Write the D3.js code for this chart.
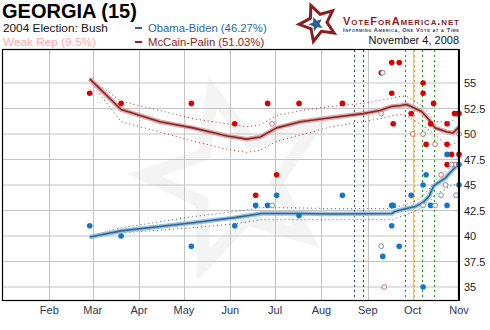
<!DOCTYPE html>
<html>
<head>
<meta charset="utf-8">
<script src="https://cdn.jsdelivr.net/npm/d3@7"></script>
<style>
  body { margin: 0; background: #fff; }
  svg { display: block; font-family: "Liberation Sans", Arial, sans-serif; }
</style>
</head>
<body>
<div class="chart"></div>
<script>
// ---- data ----
let months = ["2008-02-01", "2008-03-01", "2008-04-01", "2008-05-01", "2008-06-01",
              "2008-07-01", "2008-08-01", "2008-09-01", "2008-10-01", "2008-11-01"];
let monthLabels = ["Feb", "Mar", "Apr", "May", "Jun", "Jul", "Aug", "Sep", "Oct", "Nov"];
let yTicks = [35, 37.5, 40, 42.5, 45, 47.5, 50, 52.5, 55];

// [date, value, hollow]
let mccainPolls = [
    ["2008-02-28", 54, 0], ["2008-03-20", 53, 0], ["2008-05-06", 53, 0], ["2008-06-04", 51, 0],
    ["2008-06-18", 44, 0], ["2008-06-26", 53, 0], ["2008-06-29", 51, 1], ["2008-07-02", 46, 0],
    ["2008-07-17", 53, 0], ["2008-08-15", 53, 0], ["2008-09-10", 56, 0], ["2008-09-10", 52, 1],
    ["2008-09-12", 35, 1], ["2008-09-17", 57, 0], ["2008-09-17", 54, 0], ["2008-09-18", 51, 0],
    ["2008-09-22", 57, 0], ["2008-09-30", 52, 0], ["2008-10-01", 50, 1], ["2008-10-08", 55, 0],
    ["2008-10-08", 54, 0], ["2008-10-08", 50, 1], ["2008-10-10", 49, 0], ["2008-10-13", 51, 0],
    ["2008-10-15", 53, 0], ["2008-10-16", 49, 1], ["2008-10-20", 46, 1], ["2008-10-24", 51, 0],
    ["2008-10-24", 49, 0], ["2008-10-24", 47, 0], ["2008-10-27", 48, 0], ["2008-10-29", 52, 0],
    ["2008-10-31", 52, 0], ["2008-11-01", 52, 0], ["2008-11-01", 50, 1], ["2008-11-01", 48, 0],
    ["2008-10-30", 47, 1]
];
let obamaPolls = [
    ["2008-02-28", 41, 0], ["2008-03-20", 40, 0], ["2008-05-06", 39, 0], ["2008-06-04", 41, 0],
    ["2008-06-18", 43, 0], ["2008-06-26", 43, 0], ["2008-06-29", 43, 1], ["2008-07-02", 44, 0],
    ["2008-07-17", 42, 0], ["2008-08-15", 44, 0], ["2008-09-11", 56, 1], ["2008-09-10", 39, 1],
    ["2008-09-11", 38, 0], ["2008-09-17", 43, 0], ["2008-09-18", 43, 0], ["2008-09-17", 41, 0],
    ["2008-09-22", 39, 0], ["2008-09-30", 44, 0], ["2008-10-08", 45, 0], ["2008-10-08", 43, 1],
    ["2008-10-08", 35, 0], ["2008-10-10", 46, 0], ["2008-10-13", 43, 0], ["2008-10-16", 43, 1],
    ["2008-10-20", 44, 1], ["2008-10-23", 45, 1], ["2008-10-24", 43, 0], ["2008-10-24", 48, 0],
    ["2008-10-27", 47, 1], ["2008-10-30", 44, 1], ["2008-11-01", 45, 0], ["2008-11-01", 47, 0]
];

// trend: [date, value, low, high]
let mccainTrend = [
    ["2008-02-28", 55.4, 55.2, 55.5], ["2008-03-20", 52.4, 51.2, 53.2], ["2008-04-15", 51.2, 50.2, 52.3],
    ["2008-05-07", 50.6, 49.3, 51.5], ["2008-05-30", 49.8, 48.5, 51.0], ["2008-06-12", 49.5, 48.2, 50.7],
    ["2008-06-21", 49.7, 48.4, 50.9], ["2008-07-02", 50.6, 49.3, 51.8], ["2008-07-18", 51.2, 49.9, 52.3],
    ["2008-08-07", 51.6, 50.7, 52.7], ["2008-08-29", 52.0, 51.2, 53.0], ["2008-09-09", 52.3, 51.5, 53.3],
    ["2008-09-17", 52.7, 51.8, 53.5], ["2008-09-23", 52.8, 51.9, 53.7], ["2008-09-27", 52.9, 51.8, 53.7],
    ["2008-09-30", 52.7, 51.5, 53.4], ["2008-10-07", 52.2, 50.9, 52.8], ["2008-10-12", 51.4, 50.4, 52.0],
    ["2008-10-16", 50.6, 49.9, 51.2], ["2008-10-24", 50.2, 48.9, 51.2], ["2008-10-28", 50.1, 49.0, 51.3],
    ["2008-11-01", 50.7, 49.3, 51.9]
];
let obamaTrend = [
    ["2008-02-28", 39.9, 39.8, 40.0], ["2008-03-20", 40.5, 40.3, 40.8], ["2008-05-07", 41.3, 40.8, 41.9],
    ["2008-06-04", 41.8, 41.2, 42.4], ["2008-06-22", 42.2, 41.6, 42.8], ["2008-07-18", 42.2, 41.6, 42.75],
    ["2008-08-07", 42.15, 41.6, 42.7], ["2008-09-17", 42.2, 41.6, 42.7], ["2008-09-19", 42.4, 41.7, 42.8],
    ["2008-09-27", 42.7, 42.1, 43.1], ["2008-10-03", 42.9, 42.5, 43.4], ["2008-10-08", 43.3, 42.8, 44.0],
    ["2008-10-12", 43.9, 43.3, 44.6], ["2008-10-15", 44.9, 43.9, 45.3], ["2008-10-18", 45.2, 44.2, 45.7],
    ["2008-10-23", 45.7, 44.6, 46.3], ["2008-10-26", 46.2, 44.9, 46.8], ["2008-10-30", 46.8, 45.1, 47.5],
    ["2008-11-01", 47.1, 45.2, 47.9]
];

// event markers
let eventDates = ["2008-08-23", "2008-08-29", "2008-09-26", "2008-10-02", "2008-10-07", "2008-10-15"];
let eventColors = ["#1f4e79", "#a01010", "#119911", "#f5a000", "#119911", "#119911"];

// ---- drawing ----
let parse = d3.timeParse("%Y-%m-%d");
let W = 490, H = 330;
let svg = d3.select(".chart").append("svg")
    .attr("width", W)
    .attr("height", H);

let x = d3.scaleTime()
    .domain([parse("2008-01-01"), parse("2008-11-01")])
    .range([3, 459]);
let y = d3.scaleLinear()
    .domain([35, 55])
    .range([287, 83]);
let plotTop = 50, plotBottom = 300;

// watermark star
function starPoints(cx, cy, ro, ri, rot) {
    let pts = [];
    for (let i = 0; i < 10; i++) {
        let r = i % 2 === 0 ? ro : ri;
        let a = (rot + i * 36) * Math.PI / 180;
        pts.push([cx + r * Math.cos(a), cy + r * Math.sin(a)]);
    }
    return pts;
}
let line0 = d3.line();
svg.append("path")
    .attr("d", line0(starPoints(236, 180, 108, 48, -105)) + "Z")
    .attr("fill", "#f4f4f4");
svg.append("path")
    .attr("d", line0(starPoints(236, 180, 74, 33, -105)) + "Z")
    .attr("fill", "#ffffff");

// grid
svg.selectAll(".hgrid").data(yTicks).enter().append("line")
    .attr("x1", 3).attr("x2", 459)
    .attr("y1", d => y(d)).attr("y2", d => y(d))
    .attr("stroke", "#c4c4c4").attr("stroke-width", 1);
svg.selectAll(".vgrid").data(months.slice(0, -1)).enter().append("line")
    .attr("x1", d => Math.round(x(parse(d))) + 0.5).attr("x2", d => Math.round(x(parse(d))) + 0.5)
    .attr("y1", plotTop).attr("y2", plotBottom)
    .attr("stroke", "#c4c4c4").attr("stroke-width", 1);

// event lines
svg.selectAll(".evt").data(eventDates).enter().append("line")
    .attr("x1", d => Math.round(x(parse(d))) + 0.5).attr("x2", d => Math.round(x(parse(d))) + 0.5)
    .attr("y1", plotTop).attr("y2", plotBottom)
    .attr("stroke", (d, i) => eventColors[i])
    .attr("stroke-width", 1)
    .attr("stroke-dasharray", "2,3");

// trend lines
function drawTrend(data, dark, light, dot) {
    let ln = d3.line().x(d => x(parse(d[0]))).y(d => y(d[1]));
    let lo = d3.line().x(d => x(parse(d[0]))).y(d => y(d[2]));
    let hi = d3.line().x(d => x(parse(d[0]))).y(d => y(d[3]));
    [lo, hi].forEach(f => {
        svg.append("path").attr("d", f(data))
            .attr("fill", "none").attr("stroke", dot)
            .attr("stroke-width", 1).attr("stroke-dasharray", "1,3");
    });
    svg.append("path").attr("d", ln(data))
        .attr("fill", "none").attr("stroke", light).attr("stroke-width", 4.5)
        .attr("stroke-linejoin", "round");
    svg.append("path").attr("d", ln(data))
        .attr("fill", "none").attr("stroke", dark).attr("stroke-width", 1.6)
        .attr("stroke-linejoin", "round");
}
drawTrend(mccainTrend, "#8e2323", "#d8a8a8", "#b03030");
drawTrend(obamaTrend, "#2a6a9a", "#9fc0dc", "#2a6a9a");

// poll dots
function drawPolls(data, fill, ring) {
    svg.selectAll(null).data(data).enter().append("circle")
        .attr("cx", d => x(parse(d[0])))
        .attr("cy", d => y(d[1]))
        .attr("r", d => d[2] ? 2.4 : 2.8)
        .attr("fill", d => d[2] ? "#fff" : fill)
        .attr("stroke", d => d[2] ? ring : "none")
        .attr("stroke-width", 1);
}
drawPolls(mccainPolls, "#dd0000", "#c87070");
drawPolls(obamaPolls, "#1177cc", "#7a94aa");

// frame
svg.append("rect")
    .attr("x", 2.5).attr("y", plotTop - 0.5)
    .attr("width", 456).attr("height", plotBottom - plotTop + 1)
    .attr("fill", "none").attr("stroke", "#000").attr("stroke-width", 1.2);
svg.append("line")
    .attr("x1", 459).attr("x2", 459).attr("y1", plotTop - 1).attr("y2", plotBottom + 1)
    .attr("stroke", "#000").attr("stroke-width", 2);

// axes
svg.selectAll(".mlab").data(months).enter().append("text")
    .attr("x", d => x(parse(d)))
    .attr("y", 314)
    .attr("text-anchor", "middle")
    .attr("font-size", 11)
    .attr("fill", "#2d3550")
    .text((d, i) => monthLabels[i]);
svg.selectAll(".ylab").data(yTicks).enter().append("text")
    .attr("x", 464)
    .attr("y", d => y(d) + 4)
    .attr("font-size", 11)
    .attr("fill", "#222")
    .text(d => d);

// header
svg.append("text").attr("x", 2).attr("y", 18)
    .attr("font-size", 20).attr("font-weight", "bold").attr("fill", "#000")
    .text("GEORGIA (15)");
svg.append("text").attr("x", 3).attr("y", 32)
    .attr("font-size", 11.8).attr("fill", "#111")
    .text("2004 Election: Bush");
svg.append("text").attr("x", 3).attr("y", 46)
    .attr("font-size", 11.8).attr("fill", "#ffaaaa")
    .text("Weak Rep (9.5%)");

let legend = [["Obama-Biden (46.27%)", "#2a6a9a"], ["McCain-Palin (51.03%)", "#8e2323"]];
legend.forEach((l, i) => {
    svg.append("line").attr("x1", 135).attr("x2", 142)
        .attr("y1", 28 + i * 14).attr("y2", 28 + i * 14)
        .attr("stroke", l[1]).attr("stroke-width", 2);
    svg.append("text").attr("x", 148).attr("y", 32 + i * 14)
        .attr("font-size", 11.3).attr("fill", l[1])
        .text(l[0]);
});

// logo
svg.append("path")
    .attr("d", line0(starPoints(318, 23, 19, 9, -112)) + "Z")
    .attr("fill", "#fff").attr("stroke", "#8b1f1f").attr("stroke-width", 3)
    .attr("stroke-linejoin", "miter");
svg.append("path")
    .attr("d", line0(starPoints(316, 24, 7.5, 3.4, -112)) + "Z")
    .attr("fill", "#2d5f8f");
svg.append("text").attr("x", 343).attr("y", 25)
    .attr("font-size", 11).attr("font-weight", "bold").attr("fill", "#8b1f1f")
    .attr("font-variant", "small-caps").attr("textLength", 116)
    .text("VoteForAmerica.net");
svg.append("text").attr("x", 343).attr("y", 32)
    .attr("font-size", 5.5).attr("font-weight", "bold").attr("fill", "#1f3f73")
    .attr("font-variant", "small-caps").attr("textLength", 116)
    .text("Informing America, One Vote at a Time");
svg.append("text").attr("x", 459).attr("y", 44)
    .attr("text-anchor", "end")
    .attr("font-size", 11).attr("fill", "#111")
    .text("November 4, 2008");
</script>
</body>
</html>
